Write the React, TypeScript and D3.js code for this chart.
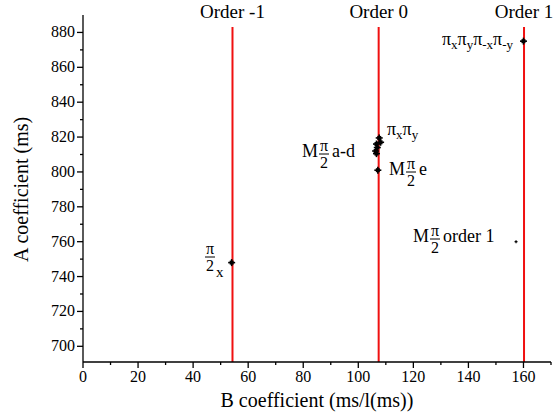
import React from "react";
import * as d3 from "d3";

// measured points (B coefficient, A coefficient)
const pointB = [54, 107.6, 108.1, 106.6, 106.9, 106.3, 106.6, 107.1, 160, 157.3];
const pointA = [748, 819.5, 817, 816, 814, 812, 810.5, 801, 875, 760];
const pointBig = [true, true, true, true, true, true, true, true, true, false];

// diffraction orders
const orderB = [54.3, 107.4, 160.2];
const orderLabels = ["Order -1", "Order 0", "Order 1"];

const xTicks = [0, 20, 40, 60, 80, 100, 120, 140, 160];
const yTicks = [700, 720, 740, 760, 780, 800, 820, 840, 860, 880];

const width = 557;
const height = 420;
const serif = { fontFamily: "Liberation Serif" };

const MFrac = ({ x, y, pre, post }: { x: number; y: number; pre: string; post: string }) => {
  // y = position of the fraction bar
  const preW = pre ? 17 : 0;
  const fx = x + preW;
  return (
    <g fill="black">
      {pre && (
        <text x={x} y={y + 3} fontSize={18} style={serif}>
          {pre}
        </text>
      )}
      <text x={fx + 5} y={y - 3} fontSize={16} textAnchor="middle" style={serif}>
        π
      </text>
      <line x1={fx} x2={fx + 10} y1={y} y2={y} stroke="black" strokeWidth={1} />
      <text x={fx + 5} y={y + 14} fontSize={16} textAnchor="middle" style={serif}>
        2
      </text>
      <text x={fx + 13} y={y + 3} fontSize={18} style={serif}>
        {post}
      </text>
    </g>
  );
};

const Chart = () => {
  const x = d3.scaleLinear().domain([0, 170]).range([83, 551]);
  const y = d3.scaleLinear().domain([691, 890]).range([362, 15]);
  const x0 = x(0);
  const y0 = y(691);

  const xMinor = d3.range(10, 171, 20);
  const yMinor = d3.range(710, 890, 20);

  return (
    <svg width={width} height={height} style={{ position: "absolute", left: 0, top: 0 }}>
      <rect width={width} height={height} fill="white" />
      {/* order lines */}
      {orderB.map((b, i) => (
        <g key={i}>
          <line x1={x(b)} x2={x(b)} y1={27} y2={y0} stroke="#f01010" strokeWidth={2} />
          <text x={x(b)} y={18} textAnchor="middle" fontSize={19} style={serif}>
            {orderLabels[i]}
          </text>
        </g>
      ))}

      {/* axes */}
      <g stroke="black" strokeWidth={1.3}>
        <line x1={x0} x2={x(170)} y1={y0} y2={y0} />
        <line x1={x0} x2={x0} y1={y0} y2={y(890)} />
        {xTicks.map((t) => (
          <line key={t} x1={x(t)} x2={x(t)} y1={y0} y2={y0 + 6} />
        ))}
        {xMinor.map((t) => (
          <line key={t} x1={x(t)} x2={x(t)} y1={y0} y2={y0 + 3} />
        ))}
        {yTicks.map((t) => (
          <line key={t} x1={x0} x2={x0 - 6} y1={y(t)} y2={y(t)} />
        ))}
        {yMinor.map((t) => (
          <line key={t} x1={x0} x2={x0 - 3} y1={y(t)} y2={y(t)} />
        ))}
      </g>
      {xTicks.map((t) => (
        <text key={t} x={x(t)} y={y0 + 20} textAnchor="middle" fontSize={16} style={serif}>
          {t}
        </text>
      ))}
      {yTicks.map((t) => (
        <text key={t} x={x0 - 8} y={y(t) + 5} textAnchor="end" fontSize={16} style={serif}>
          {t}
        </text>
      ))}
      <text x={x(85)} y={407} textAnchor="middle" fontSize={20} style={serif}>
        B coefficient (ms/l(ms))
      </text>
      <text
        transform={`translate(28, ${y(790)}) rotate(-90)`}
        textAnchor="middle"
        fontSize={20}
        style={serif}
      >
        A coefficient (ms)
      </text>

      {/* points */}
      {pointB.map((b, i) => {
        const px = x(b);
        const py = y(pointA[i]);
        const s = pointBig[i] ? 3.5 : 1.5;
        return (
          <g key={i} stroke="black" strokeWidth={pointBig[i] ? 1.6 : 1.2}>
            <line x1={px - s} x2={px + s} y1={py} y2={py} />
            <line x1={px} x2={px} y1={py - s} y2={py + s} />
            {pointBig[i] && (
              <rect x={px - 2} y={py - 2} width={4} height={4} fill="black" stroke="none" />
            )}
          </g>
        );
      })}

      {/* annotations */}
      <MFrac x={302} y={154} pre="M" post="a-d" />
      <MFrac x={389} y={172} pre="M" post="e" />
      <MFrac x={413} y={239} pre="M" post=" order 1" />
      <MFrac x={205} y={257} pre="" post="" />
      <text x={216} y={277} fontSize={15} style={serif}>
        x
      </text>
      <text x={387} y={135} fontSize={18} style={serif}>
        π<tspan fontSize={13} dy={4}>x</tspan>
        <tspan dy={-4}>π</tspan>
        <tspan fontSize={13} dy={4}>y</tspan>
      </text>
      <text x={513} y={45} fontSize={18} textAnchor="end" style={serif}>
        π<tspan fontSize={13} dy={4}>x</tspan>
        <tspan dy={-4}>π</tspan>
        <tspan fontSize={13} dy={4}>y</tspan>
        <tspan dy={-4}>π</tspan>
        <tspan fontSize={13} dy={4}>-x</tspan>
        <tspan dy={-4}>π</tspan>
        <tspan fontSize={13} dy={4}>-y</tspan>
      </text>
    </svg>
  );
};

export default function App() {
  return <Chart />;
}
